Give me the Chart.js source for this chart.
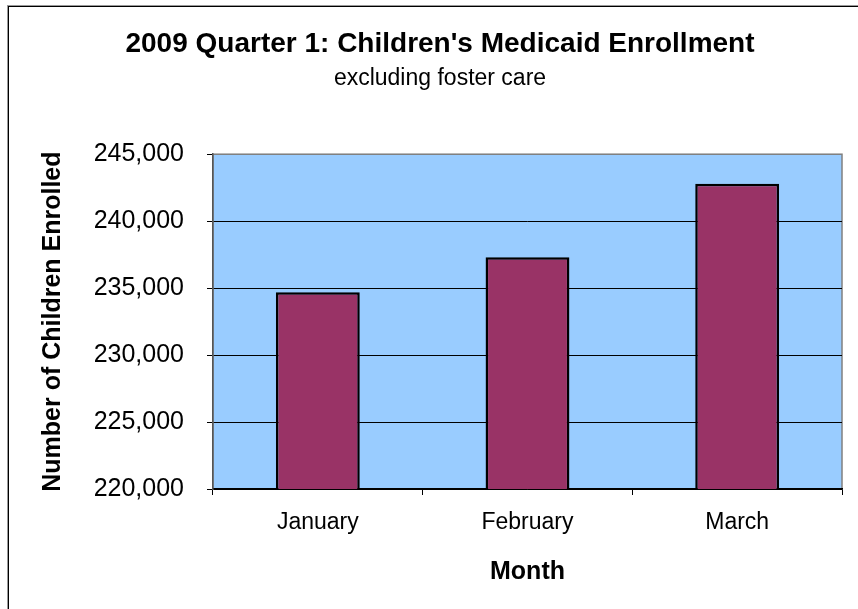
<!DOCTYPE html>
<html>
<head>
<meta charset="utf-8">
<script src="https://cdn.jsdelivr.net/npm/chart.js@4.4.1/dist/chart.umd.min.js"></script>
<style>
    html, body { margin: 0; padding: 0; background: #fff; overflow: hidden; }
    #wrap { position: relative; width: 858px; height: 609px; }
    #frame { position: absolute; left: 8px; top: 6px; right: -20px; bottom: -20px;
             border-left: 1px solid #000; border-top: 1px solid #000; box-shadow: -1px -1px 0 #999; }
    canvas { position: absolute; left: 0; top: 0; }
</style>
</head>
<body>
<div id="wrap">
    <div id="frame"></div>
    <canvas id="chart" width="858" height="609"></canvas>
</div>
<script>
/* ── Data ── */
const months = ['January', 'February', 'March'];
const enrolled = [234700, 237300, 242800];
const yMin = 220000;
const yMax = 245000;
const yStep = 5000;

const FONT = 'Arial, "Liberation Sans", Helvetica, sans-serif';

/* ── Plot background + grey frame ── */
const plotBackground = {
    id: 'plotBackground',
    beforeDraw(chart) {
        const { ctx, chartArea: a } = chart;
        ctx.save();
        ctx.fillStyle = '#99CCFF';
        ctx.fillRect(a.left, a.top, a.right - a.left, a.bottom - a.top);
        ctx.strokeStyle = '#808080';
        ctx.lineWidth = 1.5;
        ctx.strokeRect(a.left, a.top, a.right - a.left, a.bottom - a.top);
        ctx.restore();
    }
};

const ctx = document.getElementById('chart').getContext('2d');
new Chart(ctx, {
    type: 'bar',
    data: {
        labels: months,
        datasets: [{
            label: 'Children enrolled',
            data: enrolled,
            backgroundColor: '#993366',
            borderColor: '#000',
            borderWidth: 2.5,
            borderSkipped: false,
            barPercentage: 0.4,
            categoryPercentage: 1.0
        }]
    },
    options: {
        responsive: false,
        animation: false,
        devicePixelRatio: 1,
        // left padding shifts the centred titles to match the original (centre ≈ 440px)
        layout: { padding: { left: 38, right: 16, top: 0, bottom: 0 } },
        plugins: {
            legend: { display: false },
            tooltip: { enabled: false },
            title: {
                display: true,
                text: "2009 Quarter 1: Children's Medicaid Enrollment",
                color: '#000',
                font: { family: FONT, size: 28, weight: 'bold' },
                padding: { top: 27, bottom: 4 }
            },
            subtitle: {
                display: true,
                text: 'excluding foster care',
                color: '#000',
                font: { family: FONT, size: 23 },
                padding: { top: 0, bottom: 62 }
            }
        },
        scales: {
            x: {
                offset: true,
                grid: { display: true, drawOnChartArea: false, offset: true, tickLength: 6, color: '#000' },
                border: { color: '#000', width: 1.5 },
                ticks: { color: '#000', font: { family: FONT, size: 23 }, padding: 14, maxRotation: 0 },
                title: {
                    display: true, text: 'Month', color: '#000',
                    font: { family: FONT, size: 25, weight: 'bold' },
                    padding: { top: 0, bottom: 22 }
                },
                afterFit: s => { s.height = 120; }
            },
            y: {
                min: yMin,
                max: yMax,
                grid: {
                    color: c => (c.tick && c.tick.value === yMax) ? '#808080' : '#000',
                    tickColor: '#000',
                    tickLength: 6,
                    lineWidth: 1
                },
                border: { color: '#555', width: 1.5 },
                ticks: {
                    stepSize: yStep,
                    color: '#000',
                    padding: 23,
                    font: { family: FONT, size: 25 },
                    callback: v => v.toLocaleString('en-US')
                },
                title: {
                    display: true, text: 'Number of Children Enrolled', color: '#000',
                    font: { family: FONT, size: 25, weight: 'bold' },
                    padding: { top: 0, bottom: 0 }
                },
                afterFit: s => { s.width = 175; }
            }
        }
    },
    plugins: [plotBackground]
});
</script>
</body>
</html>
